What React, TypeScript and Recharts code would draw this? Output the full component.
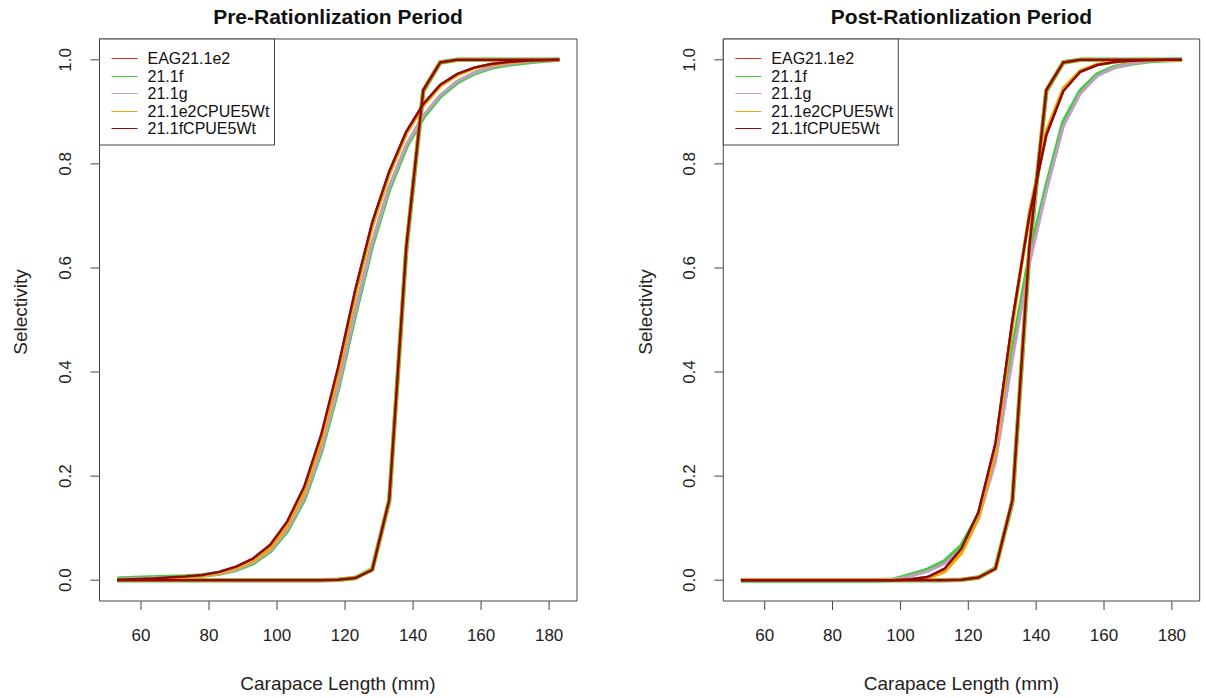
import React from 'react';
import { LineChart, Line, XAxis, YAxis, ReferenceArea } from 'recharts';

// carapace length bins (mm)
const lengths = [53, 58, 63, 68, 73, 78, 83, 88, 93, 98, 103, 108, 113, 118, 123, 128, 133, 138, 143, 148, 153, 158, 163, 168, 173, 178, 183];

const seriesNames = ['EAG21.1e2', '21.1f', '21.1g', '21.1e2CPUE5Wt', '21.1fCPUE5Wt'];
const seriesKeys = ['eag', 'f', 'g', 'e2c', 'fc'];

const xTicks = [60, 80, 100, 120, 140, 160, 180];
const yTicks = [0, 0.2, 0.4, 0.6, 0.8, 1.0];

// pre-rationalization: total selectivity
const preTotalEag = [0.001, 0.002, 0.003, 0.005, 0.007, 0.010, 0.016, 0.026, 0.041, 0.067, 0.111, 0.178, 0.277, 0.407, 0.556, 0.686, 0.784, 0.861, 0.914, 0.951, 0.972, 0.985, 0.992, 0.996, 0.998, 0.999, 1.0];
const preTotalF = [0.003, 0.004, 0.005, 0.006, 0.007, 0.009, 0.013, 0.020, 0.033, 0.056, 0.095, 0.156, 0.248, 0.370, 0.512, 0.645, 0.752, 0.833, 0.890, 0.930, 0.957, 0.974, 0.985, 0.991, 0.995, 0.998, 1.0];
const preTotalG = [0.002, 0.003, 0.004, 0.005, 0.006, 0.008, 0.012, 0.020, 0.034, 0.057, 0.097, 0.158, 0.250, 0.373, 0.515, 0.648, 0.755, 0.836, 0.893, 0.932, 0.959, 0.975, 0.986, 0.992, 0.996, 0.998, 1.0];
const preTotalE2c = [0.001, 0.001, 0.002, 0.004, 0.006, 0.009, 0.014, 0.023, 0.038, 0.062, 0.105, 0.170, 0.268, 0.398, 0.547, 0.680, 0.780, 0.858, 0.912, 0.950, 0.971, 0.984, 0.991, 0.995, 0.998, 0.999, 1.0];
const preTotalFc = [0.001, 0.002, 0.003, 0.005, 0.007, 0.010, 0.016, 0.026, 0.042, 0.068, 0.113, 0.180, 0.280, 0.410, 0.558, 0.688, 0.786, 0.862, 0.915, 0.952, 0.973, 0.985, 0.992, 0.996, 0.998, 0.999, 1.0];

// pre-rationalization: retention
const preRetEag = [0, 0, 0, 0, 0, 0, 0, 0, 0, 0, 0, 0, 0, 0.001, 0.004, 0.020, 0.155, 0.640, 0.942, 0.995, 1.0, 1.0, 1.0, 1.0, 1.0, 1.0, 1.0];
const preRetF = [0, 0, 0, 0, 0, 0, 0, 0, 0, 0, 0, 0, 0, 0.001, 0.004, 0.021, 0.152, 0.635, 0.940, 0.995, 1.0, 1.0, 1.0, 1.0, 1.0, 1.0, 1.0];
const preRetG = [0, 0, 0, 0, 0, 0, 0, 0, 0, 0, 0, 0, 0, 0.001, 0.004, 0.021, 0.153, 0.637, 0.941, 0.995, 1.0, 1.0, 1.0, 1.0, 1.0, 1.0, 1.0];
const preRetE2c = [0, 0, 0, 0, 0, 0, 0, 0, 0, 0, 0, 0, 0, 0.001, 0.004, 0.020, 0.155, 0.640, 0.942, 0.995, 1.0, 1.0, 1.0, 1.0, 1.0, 1.0, 1.0];
const preRetFc = [0, 0, 0, 0, 0, 0, 0, 0, 0, 0, 0, 0, 0, 0.001, 0.004, 0.020, 0.155, 0.640, 0.942, 0.995, 1.0, 1.0, 1.0, 1.0, 1.0, 1.0, 1.0];

// post-rationalization: total selectivity
const postTotalEag = [0, 0, 0, 0, 0, 0, 0, 0, 0, 0, 0.002, 0.006, 0.021, 0.060, 0.130, 0.262, 0.498, 0.700, 0.855, 0.940, 0.977, 0.990, 0.996, 0.998, 0.999, 1.0, 1.0];
const postTotalF = [0, 0, 0, 0, 0, 0, 0, 0, 0, 0.001, 0.010, 0.020, 0.036, 0.066, 0.125, 0.240, 0.440, 0.620, 0.756, 0.880, 0.940, 0.972, 0.986, 0.993, 0.997, 0.999, 1.0];
const postTotalG = [0, 0, 0, 0, 0, 0, 0, 0, 0, 0.001, 0.008, 0.017, 0.032, 0.060, 0.118, 0.228, 0.425, 0.608, 0.748, 0.872, 0.935, 0.969, 0.985, 0.993, 0.997, 0.999, 1.0];
const postTotalE2c = [0, 0, 0, 0, 0, 0, 0, 0, 0, 0, 0.001, 0.004, 0.016, 0.052, 0.120, 0.250, 0.490, 0.705, 0.862, 0.945, 0.979, 0.991, 0.996, 0.998, 0.999, 1.0, 1.0];
const postTotalFc = [0, 0, 0, 0, 0, 0, 0, 0, 0, 0, 0.002, 0.006, 0.022, 0.061, 0.131, 0.263, 0.500, 0.700, 0.856, 0.940, 0.977, 0.990, 0.996, 0.998, 0.999, 1.0, 1.0];

// post-rationalization: retention
const postRetEag = [0, 0, 0, 0, 0, 0, 0, 0, 0, 0, 0, 0, 0, 0.001, 0.005, 0.022, 0.154, 0.640, 0.942, 0.995, 1.0, 1.0, 1.0, 1.0, 1.0, 1.0, 1.0];
const postRetF = [0, 0, 0, 0, 0, 0, 0, 0, 0, 0, 0, 0, 0, 0.001, 0.005, 0.023, 0.150, 0.632, 0.940, 0.995, 1.0, 1.0, 1.0, 1.0, 1.0, 1.0, 1.0];
const postRetG = [0, 0, 0, 0, 0, 0, 0, 0, 0, 0, 0, 0, 0, 0.001, 0.005, 0.023, 0.151, 0.635, 0.941, 0.995, 1.0, 1.0, 1.0, 1.0, 1.0, 1.0, 1.0];
const postRetE2c = [0, 0, 0, 0, 0, 0, 0, 0, 0, 0, 0, 0, 0, 0.001, 0.005, 0.022, 0.154, 0.640, 0.942, 0.995, 1.0, 1.0, 1.0, 1.0, 1.0, 1.0, 1.0];
const postRetFc = [0, 0, 0, 0, 0, 0, 0, 0, 0, 0, 0, 0, 0, 0.001, 0.005, 0.022, 0.154, 0.640, 0.942, 0.995, 1.0, 1.0, 1.0, 1.0, 1.0, 1.0, 1.0];

const colors = ['#d42a2a', '#3ccf3c', '#c79bc7', '#f0a800', '#8b0a0a'];
const widths = [2.5, 4.5, 3, 3.5, 2.5];

const FONT = '"Liberation Sans", Arial, sans-serif';
const AXIS = '#444';

function buildRows(totals: number[][], rets: number[][]) {
  return lengths.map((len, i) => {
    const row: Record<string, number> = { len };
    seriesKeys.forEach((k, j) => {
      row[k + '_t'] = totals[j][i];
      row[k + '_r'] = rets[j][i];
    });
    return row;
  });
}

const preRows = buildRows(
  [preTotalEag, preTotalF, preTotalG, preTotalE2c, preTotalFc],
  [preRetEag, preRetF, preRetG, preRetE2c, preRetFc]
);
const postRows = buildRows(
  [postTotalEag, postTotalF, postTotalG, postTotalE2c, postTotalFc],
  [postRetEag, postRetF, postRetG, postRetE2c, postRetFc]
);

const XTick = (props: any) => {
  const { x, y, payload } = props;
  return (
    <text x={x} y={y + 29} textAnchor="middle" fontSize={17} fill="#222" fontFamily={FONT}>
      {payload.value}
    </text>
  );
};

const YTick = (props: any) => {
  const { x, y, payload } = props;
  const cx = x - 23;
  return (
    <text
      x={cx}
      y={y}
      transform={`rotate(-90, ${cx}, ${y})`}
      textAnchor="middle"
      dominantBaseline="central"
      fontSize={17}
      fill="#222"
      fontFamily={FONT}
    >
      {Number(payload.value).toFixed(1)}
    </text>
  );
};

function Panel({ rows, yAxisWidth, right }: { rows: any[]; yAxisWidth: number; right: number }) {
  return (
    <LineChart width={603} height={698} data={rows} margin={{ top: 39, right, bottom: 67, left: 0 }}>
      <XAxis
        dataKey="len"
        type="number"
        domain={[47.8, 188.2]}
        ticks={xTicks}
        axisLine={false}
        tickSize={9}
        tickLine={{ stroke: AXIS }}
        tick={<XTick />}
        height={30}
      />
      <YAxis
        type="number"
        domain={[-0.04, 1.04]}
        ticks={yTicks}
        axisLine={false}
        tickSize={9}
        tickLine={{ stroke: AXIS }}
        tick={<YTick />}
        width={yAxisWidth}
      />
      <ReferenceArea x1={47.8} x2={188.2} y1={-0.04} y2={1.04} fill="none" stroke={AXIS} strokeWidth={1} ifOverflow="visible" />
      {seriesKeys.map((k, j) => [
        <Line key={k + '_t'} dataKey={k + '_t'} type="linear" stroke={colors[j]} strokeWidth={widths[j]} dot={false} isAnimationActive={false} />,
        <Line key={k + '_r'} dataKey={k + '_r'} type="linear" stroke={colors[j]} strokeWidth={widths[j]} dot={false} isAnimationActive={false} />,
      ])}
    </LineChart>
  );
}

function LegendBox({ x, y }: { x: number; y: number }) {
  return (
    <g>
      <rect x={x} y={y} width={175} height={106} fill="#fff" stroke={AXIS} strokeWidth={1} />
      {seriesNames.map((n, i) => {
        const ry = Math.round(y + 19 + i * 17.5) + 0.5;
        return (
          <g key={n}>
            <line x1={x + 12} x2={x + 38} y1={ry} y2={ry} stroke={colors[i]} strokeWidth={1} />
            <text x={x + 48} y={ry} dominantBaseline="central" fontSize={16} fill="#111" fontFamily={FONT}>
              {n}
            </text>
          </g>
        );
      })}
    </g>
  );
}

export default function App() {
  return (
    <div style={{ position: 'absolute', left: 0, top: 0, width: 1206, height: 698, background: '#fff' }}>
      <div style={{ position: 'absolute', left: 0, top: 0 }}>
        <Panel rows={preRows} yAxisWidth={99.5} right={26} />
      </div>
      <div style={{ position: 'absolute', left: 603, top: 0 }}>
        <Panel rows={postRows} yAxisWidth={120.3} right={6.3} />
      </div>
      <svg width={1206} height={698} style={{ position: 'absolute', left: 0, top: 0, pointerEvents: 'none' }}>
        <text x={338} y={16} textAnchor="middle" dominantBaseline="central" fontSize={21} fontWeight="bold" fill="#111" fontFamily={FONT}>
          Pre-Rationlization Period
        </text>
        <text x={961.5} y={16} textAnchor="middle" dominantBaseline="central" fontSize={21} fontWeight="bold" fill="#111" fontFamily={FONT}>
          Post-Rationlization Period
        </text>
        <text x={338} y={683} textAnchor="middle" dominantBaseline="central" fontSize={19} fill="#222" fontFamily={FONT}>
          Carapace Length (mm)
        </text>
        <text x={961.5} y={683} textAnchor="middle" dominantBaseline="central" fontSize={19} fill="#222" fontFamily={FONT}>
          Carapace Length (mm)
        </text>
        <text x={20} y={312} transform="rotate(-90, 20, 312)" textAnchor="middle" dominantBaseline="central" fontSize={19} fill="#222" fontFamily={FONT}>
          Selectivity
        </text>
        <text x={645} y={312} transform="rotate(-90, 645, 312)" textAnchor="middle" dominantBaseline="central" fontSize={19} fill="#222" fontFamily={FONT}>
          Selectivity
        </text>
        <LegendBox x={99.5} y={39} />
        <LegendBox x={723.3} y={39} />
      </svg>
    </div>
  );
}
